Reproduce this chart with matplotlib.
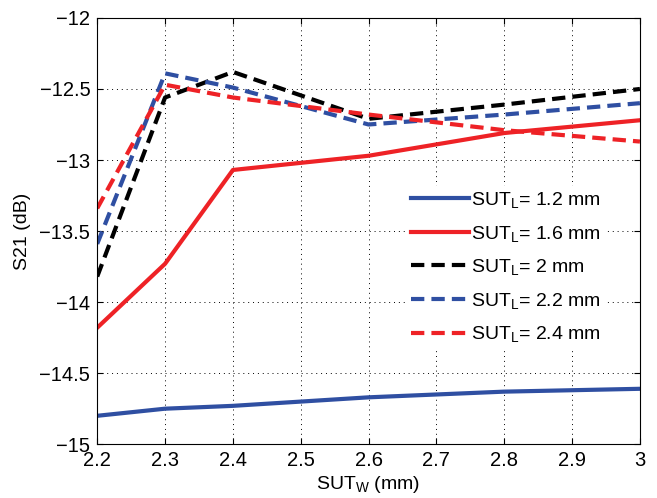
import matplotlib
matplotlib.use("Agg")
import matplotlib.pyplot as plt
from matplotlib.ticker import FuncFormatter, MultipleLocator

plt.rcParams['font.family'] = ['Liberation Sans', 'DejaVu Sans']
plt.rcParams['mathtext.fontset'] = 'custom'
plt.rcParams['mathtext.rm'] = 'Liberation Sans'
plt.rcParams['mathtext.default'] = 'regular'

# data
sut_w = [2.2, 2.3, 2.4, 2.6, 2.8, 3.0]
s21_12 = [-14.80, -14.75, -14.73, -14.67, -14.63, -14.61]
s21_16 = [-14.18, -13.73, -13.07, -12.97, -12.81, -12.72]
s21_20 = [-13.82, -12.56, -12.38, -12.71, -12.61, -12.50]
s21_22 = [-13.59, -12.39, -12.49, -12.75, -12.68, -12.60]
s21_24 = [-13.34, -12.47, -12.56, -12.68, -12.79, -12.87]
labels = ['1.2', '1.6', '2', '2.2', '2.4']

blue = '#2f4fa2'
red = '#ee2226'

fig = plt.figure(figsize=(6.57, 4.98), dpi=100)
ax = fig.add_axes([0.148, 0.108, 0.826, 0.856])

dash = (3.2, 1.7)
series = [
    (s21_12, blue, None),
    (s21_16, red, None),
    (s21_20, 'black', dash),
    (s21_22, blue, dash),
    (s21_24, red, dash),
]
for (vals, col, dsh), lab in zip(series, labels):
    kw = {}
    if dsh is not None:
        kw['dashes'] = dsh
    ax.plot(sut_w, vals, color=col, lw=3, label=r'SUT$_{L}$= ' + lab + ' mm', **kw)

fmt = FuncFormatter(lambda v, pos: ('%g' % v).replace('-', '\u2212'))
ax.set_xlim(2.2, 3.0)
ax.set_ylim(-15, -12)
ax.xaxis.set_major_locator(MultipleLocator(0.1))
ax.yaxis.set_major_locator(MultipleLocator(0.5))
ax.xaxis.set_major_formatter(fmt)
ax.yaxis.set_major_formatter(fmt)
ax.tick_params(direction='in', top=True, right=True, labelsize=14.5, length=4, pad=5)
ax.grid(True, color='black', linestyle=(0, (1, 4)), linewidth=0.7)
ax.set_xlabel(r'SUT$_{W}$ (mm)', fontsize=14, labelpad=3)
ax.set_ylabel('S21 (dB)', fontsize=14, labelpad=6)

leg = ax.legend(loc='lower right', bbox_to_anchor=(0.935, 0.225), frameon=True,
                fontsize=14, handlelength=3.0, handletextpad=0.1, labelspacing=0.7,
                borderaxespad=0, borderpad=0.2)
leg.get_frame().set_edgecolor('none')
leg.get_frame().set_facecolor('white')
leg.get_frame().set_alpha(1)

fig.savefig('out.png', dpi=100)
